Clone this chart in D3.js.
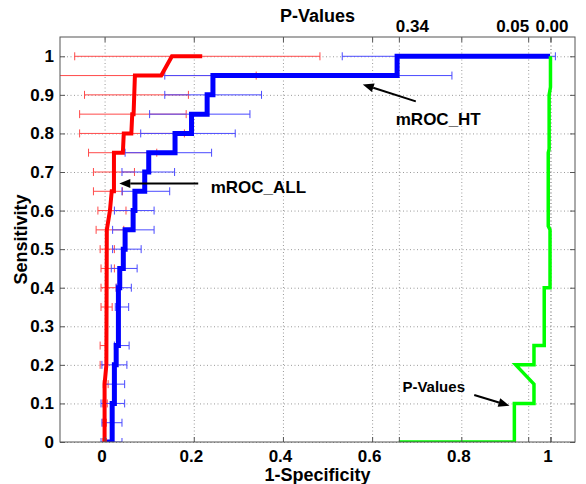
<!DOCTYPE html>
<html>
<head>
<meta charset="utf-8">
<script src="https://cdn.jsdelivr.net/npm/d3@7"></script>
<style>
  body { margin: 0; background: #fff; }
  svg text { font-family: "Liberation Sans", Arial, sans-serif; font-weight: bold; }
</style>
</head>
<body>
<div id="chart"></div>
<script>
// sensitivity levels that carry error bars
const levels = [0, 0.05, 0.1, 0.15, 0.2, 0.25, 0.35, 0.4, 0.45, 0.5, 0.55, 0.6, 0.65, 0.7, 0.75, 0.8, 0.85, 0.9, 0.95, 1.0];
const redLo  = [-0.004, -0.004, -0.004, -0.003, -0.010, -0.010, -0.008, -0.008, -0.008, -0.010, -0.019, -0.015, -0.025, -0.025, -0.036, -0.056, -0.056, -0.045, -0.13, -0.067];
const redHi  = [0.004, 0.004, 0.006, 0.008, 0.006, 0.004, 0.017, 0.026, 0.022, 0.022, 0.043, 0.048, 0.040, 0.067, 0.117, 0.179, 0.183, 0.188, 0.340, 0.483];
const blueLo = [-0.008, -0.006, -0.008, 0.002, -0.006, 0.022, 0.024, 0.026, 0.015, 0.018, 0.018, 0.022, 0.039, 0.039, 0.046, 0.081, 0.101, 0.135, 0.135, 0.533];
const blueHi = [0.039, 0.039, 0.045, 0.045, 0.050, 0.055, 0.054, 0.060, 0.073, 0.082, 0.111, 0.111, 0.146, 0.157, 0.240, 0.293, 0.326, 0.352, 0.779, 1.011];

// mROC_ALL curve
const redX = [0, 0, 0.004, 0.005, 0.012, 0.016, 0.021, 0.021, 0.041, 0.043, 0.060, 0.062, 0.065, 0.068, 0.127, 0.151, 0.219];
const redY = [0, 0.15, 0.2, 0.55, 0.6, 0.65, 0.65, 0.75, 0.75, 0.8, 0.8, 0.85, 0.85, 0.95, 0.95, 1, 1];

// mROC_HT curve
const blueX = [0.004, 0.017, 0.017, 0.022, 0.022, 0.026, 0.026, 0.031, 0.031, 0.034, 0.034, 0.042, 0.042, 0.046, 0.046, 0.064, 0.064, 0.068, 0.068, 0.090, 0.090, 0.099, 0.099, 0.158, 0.158, 0.195, 0.195, 0.230, 0.230, 0.243, 0.243, 0.656, 0.656, 0.999];
const blueY = [0, 0, 0.1, 0.1, 0.2, 0.2, 0.25, 0.25, 0.4, 0.4, 0.45, 0.45, 0.5, 0.5, 0.55, 0.55, 0.6, 0.6, 0.65, 0.65, 0.7, 0.7, 0.75, 0.75, 0.8, 0.8, 0.85, 0.85, 0.9, 0.9, 0.95, 0.95, 1, 1];

// P-value curve
const greenX = [0.66, 0.919, 0.919, 0.963, 0.963, 0.922, 0.963, 0.963, 0.986, 0.986, 0.999, 0.999, 0.995, 0.995, 0.997, 0.997, 1.0, 1.0];
const greenY = [0, 0, 0.1, 0.1, 0.15, 0.2, 0.2, 0.25, 0.25, 0.4, 0.4, 0.55, 0.56, 0.75, 0.76, 0.9, 0.92, 1.0];

// ticks
const xTicks = [0, 0.2, 0.4, 0.6, 0.8, 1];
const yTicks = [0, 0.1, 0.2, 0.3, 0.4, 0.5, 0.6, 0.7, 0.8, 0.9, 1];
const pValues = [0.34, 0.05, 0.00];
const pLabels = ["0.34", "0.05", "0.00"];

const width = 586, height = 484;
const margin = { left: 60, right: 11, top: 37, bottom: 42 };
const w = width - margin.left - margin.right;
const h = height - margin.top - margin.bottom;

const svg = d3.select("#chart").append("svg")
    .attr("width", width)
    .attr("height", height);

const g = svg.append("g").attr("transform", `translate(${margin.left},${margin.top})`);

const x = d3.scaleLinear().domain([-0.1, 1.055]).range([0, w]);
const y = d3.scaleLinear().domain([0, 1.05]).range([h, 0]);
const pPos = pValues.map(p => 1 - p);

svg.append("defs").append("clipPath").attr("id", "clip")
    .append("rect").attr("width", w).attr("height", h);

// grid
const gridStyle = sel => {
    sel.select(".domain").remove();
    sel.selectAll("line").attr("stroke", "#9a9a9a").attr("stroke-dasharray", "1,2.5");
};
g.append("g").attr("transform", `translate(0,${h})`)
    .call(d3.axisBottom(x).tickValues(xTicks.concat(pPos)).tickSize(-h).tickFormat(""))
    .call(gridStyle);
g.append("g")
    .call(d3.axisLeft(y).tickValues(yTicks).tickSize(-w).tickFormat(""))
    .call(gridStyle);

// error bars
const plot = g.append("g").attr("clip-path", "url(#clip)");
function errorBars(lo, hi, color) {
    const bars = plot.append("g").attr("stroke", color).attr("stroke-width", 1);
    levels.forEach((lv, i) => {
        const yy = y(lv);
        bars.append("line").attr("x1", x(lo[i])).attr("x2", x(hi[i])).attr("y1", yy).attr("y2", yy);
        [lo[i], hi[i]].forEach(v => {
            bars.append("line").attr("x1", x(v)).attr("x2", x(v)).attr("y1", yy - 4).attr("y2", yy + 4);
        });
    });
}
errorBars(redLo, redHi, "#ff4a4a");
errorBars(blueLo, blueHi, "#4a4aff");

// curves
const line = d3.line().x(d => x(d[0])).y(d => y(d[1]));
function curve(xs, ys, color, sw) {
    plot.append("path")
        .datum(xs.map((v, i) => [v, ys[i]]))
        .attr("d", line)
        .attr("fill", "none")
        .attr("stroke", color)
        .attr("stroke-width", sw)
        .attr("stroke-linejoin", "miter");
}
curve(blueX, blueY, "#0000ff", 5);
curve(redX, redY, "#ff0000", 4);
curve(greenX, greenY, "#00ff00", 3.5);

// axes (inward ticks, box)
const axisStyle = sel => {
    sel.select(".domain").remove();
    sel.selectAll("line").attr("stroke", "#555");
    sel.selectAll("text").attr("fill", "#000").style("font-size", "17px");
};
g.append("g").attr("transform", `translate(0,${h})`)
    .call(d3.axisBottom(x).tickValues(xTicks).tickSize(-5).tickPadding(8).tickFormat(d3.format("~g")))
    .call(axisStyle)
    .selectAll("text").attr("dx", -3);
g.append("g").attr("transform", `translate(0,${h})`)
    .call(d3.axisBottom(x).tickValues(pPos).tickSize(-5).tickFormat(""))
    .call(axisStyle);
g.append("g")
    .call(d3.axisTop(x).tickValues(xTicks).tickSize(-5).tickFormat(""))
    .call(axisStyle);
const topAxis = g.append("g")
    .call(d3.axisTop(x).tickValues(pPos).tickSize(-5).tickPadding(5).tickFormat((d, i) => pLabels[i]))
    .call(axisStyle);
const labelShift = [13, -16, 1];
topAxis.selectAll("text").attr("dx", (d, i) => labelShift[i]);

g.append("g")
    .call(d3.axisLeft(y).tickValues(yTicks).tickSize(-5).tickPadding(6).tickFormat(d3.format("~g")))
    .call(axisStyle);
g.append("g").attr("transform", `translate(${w},0)`)
    .call(d3.axisRight(y).tickValues(yTicks).tickSize(-5).tickFormat(""))
    .call(axisStyle);

g.append("rect").attr("width", w).attr("height", h)
    .attr("fill", "none").attr("stroke", "#555").attr("stroke-width", 1);

// axis titles
g.append("text").attr("x", w / 2).attr("y", h + 39)
    .attr("text-anchor", "middle").style("font-size", "18px").text("1-Specificity");
g.append("text").attr("transform", `translate(-33,${h / 2}) rotate(-90)`)
    .attr("text-anchor", "middle").style("font-size", "18px").text("Sensitivity");
g.append("text").attr("x", w / 2).attr("y", -15)
    .attr("text-anchor", "middle").style("font-size", "18px").text("P-Values");

// annotations with arrows
const notes = [
    { text: "mROC_HT", tx: 0.653, ty: 0.821, size: 17, from: [0.698, 0.883], to: [0.579, 0.927] },
    { text: "mROC_ALL", tx: 0.238, ty: 0.645, size: 17, from: [0.210, 0.670], to: [0.033, 0.670] },
    { text: "P-Values", tx: 0.668, ty: 0.130, size: 15, from: [0.829, 0.122], to: [0.908, 0.094] }
];
notes.forEach(n => {
    g.append("text").attr("x", x(n.tx)).attr("y", y(n.ty))
        .style("font-size", n.size + "px").text(n.text);
    const x1 = x(n.from[0]), y1 = y(n.from[1]), x2 = x(n.to[0]), y2 = y(n.to[1]);
    const ang = Math.atan2(y2 - y1, x2 - x1);
    const len = 11, half = 4.5;
    const bx = x2 - len * Math.cos(ang), by = y2 - len * Math.sin(ang);
    g.append("line").attr("x1", x1).attr("y1", y1).attr("x2", bx).attr("y2", by)
        .attr("stroke", "#000").attr("stroke-width", 2);
    g.append("polygon")
        .attr("points", [
            [x2, y2],
            [bx - half * Math.sin(ang), by + half * Math.cos(ang)],
            [bx + half * Math.sin(ang), by - half * Math.cos(ang)]
        ].map(p => p.join(",")).join(" "))
        .attr("fill", "#000");
});
</script>
</body>
</html>
